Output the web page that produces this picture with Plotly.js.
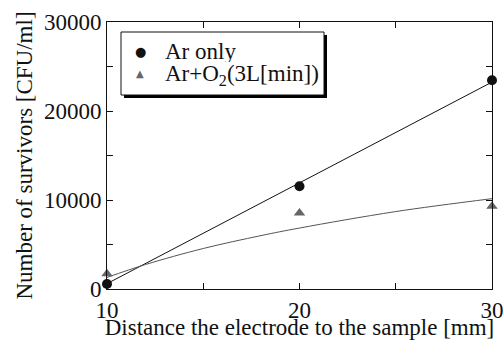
<!DOCTYPE html>
<html>
<head>
<meta charset="utf-8">
<script src="https://cdn.plot.ly/plotly-3.0.1.min.js"></script>
<style>html,body{margin:0;padding:0;background:#fff;}#chart{width:504px;height:340px;}</style>
</head>
<body>
<div id="chart"></div>
<script>
// Data
const distance = [10, 20, 30];
const arOnly = [560, 11550, 23450];
const arO2 = [1700, 8550, 9300];
// Fitted curves as drawn in the reference
const arFitX = [10, 30];
const arFitY = [600, 23250];
const o2FitX = [10, 12, 15, 18, 20, 25, 30];
const o2FitY = [1300, 2750, 4550, 6000, 6850, 8700, 10150];
const xTicks = [10, 20, 30];
const yTicks = [0, 10000, 20000, 30000];
const seriesNames = ['Ar only', 'Ar+O<sub>2</sub>(3L[min])'];

const traces = [
  {x: arFitX, y: arFitY, mode: 'lines', line: {color: '#111', width: 1}, showlegend: false, hoverinfo: 'skip'},
  {x: o2FitX, y: o2FitY, mode: 'lines', line: {color: '#555', width: 1, shape: 'spline'}, showlegend: false, hoverinfo: 'skip'},
  {x: distance, y: arOnly, mode: 'markers', name: seriesNames[0], showlegend: false, marker: {symbol: 'circle', size: 10, color: '#111'}, cliponaxis: false},
  {x: distance, y: arO2, mode: 'markers', name: seriesNames[1], showlegend: false, marker: {symbol: 'triangle-up', size: 10, color: '#666'}, cliponaxis: false}
];

const FAM = '"Liberation Serif", "Times New Roman", serif';
const font = {family: FAM, size: 23, color: '#111'};
const tickFont = {family: FAM, size: 23, color: '#111'};
const axisCommon = {
  showline: true, linecolor: '#111', linewidth: 1, mirror: 'ticks',
  ticks: 'inside', ticklen: 6, tickcolor: '#111', tickwidth: 1,
  showgrid: false, zeroline: false, tickfont: tickFont
};

// pixel -> paper helpers for legend box placement
const L = 107, T = 22, W = 385, H = 267;
const px = v => (v - L) / W;
const py = v => (T + H - v) / H;

const layout = {
  width: 504, height: 340,
  margin: {l: L, r: 504 - L - W, t: T, b: 340 - T - H},
  paper_bgcolor: '#fff', plot_bgcolor: '#fff',
  font: font,
  showlegend: false,
  xaxis: Object.assign({}, axisCommon, {
    range: [10, 30], tickvals: xTicks, ticktext: xTicks.map(String),
    minor: {dtick: 5, ticks: 'inside', ticklen: 6, tickcolor: '#111'},
    title: {text: 'Distance the electrode to the sample [mm]', font: font, standoff: 1}
  }),
  yaxis: Object.assign({}, axisCommon, {
    range: [0, 30000], tickvals: yTicks, ticktext: yTicks.map(String),
    minor: {dtick: 5000, ticks: 'inside', ticklen: 6, tickcolor: '#111'},
    title: {text: 'Number of survivors [CFU/ml]', font: font, standoff: 4}
  }),
  shapes: [
    {type: 'rect', xref: 'paper', yref: 'paper', layer: 'above',
     x0: px(124), x1: px(327), y0: py(98), y1: py(35),
     fillcolor: '#000', line: {width: 0}},
    {type: 'rect', xref: 'paper', yref: 'paper', layer: 'above',
     x0: px(121), x1: px(324), y0: py(95), y1: py(32),
     fillcolor: '#fff', line: {width: 1, color: '#111'}}
  ],
  annotations: [
    {xref: 'paper', yref: 'paper', x: px(140), y: py(51), text: '●', showarrow: false,
     xanchor: 'center', yanchor: 'middle', font: {family: 'DejaVu Sans', size: 13, color: '#111'}},
    {xref: 'paper', yref: 'paper', x: px(140), y: py(73), text: '▲', showarrow: false,
     xanchor: 'center', yanchor: 'middle', font: {family: 'DejaVu Sans', size: 10, color: '#666'}},
    {xref: 'paper', yref: 'paper', x: px(163), y: py(51), text: seriesNames[0], showarrow: false,
     xanchor: 'left', yanchor: 'middle', height: 22, font: font},
    {xref: 'paper', yref: 'paper', x: px(163), y: py(75), text: seriesNames[1], showarrow: false,
     xanchor: 'left', yanchor: 'middle', height: 24, font: font}
  ]
};

Plotly.newPlot('chart', traces, layout, {displayModeBar: false, staticPlot: true});
</script>
</body>
</html>
